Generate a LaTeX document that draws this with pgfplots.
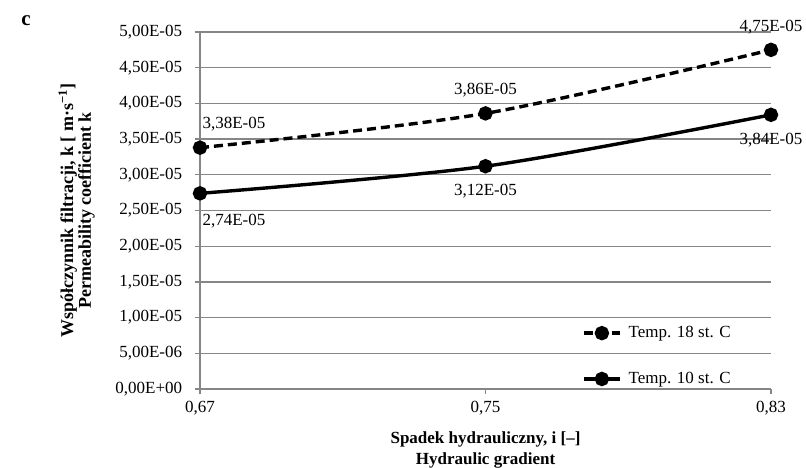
\documentclass[border=0pt]{standalone}
\usepackage{fontspec}
\setmainfont{Liberation Serif}
\usepackage{pgfplots}
\pgfplotsset{compat=1.18}
\definecolor{gridgray}{RGB}{134,134,134}
\begin{document}
\fontsize{17bp}{19bp}\selectfont
\begin{tikzpicture}
\path[use as bounding box] (-200bp,-79bp) rectangle (606bp,389bp);
\begin{axis}[
  at={(0,0)}, anchor=south west,
  width=571bp, height=357bp, scale only axis,
  clip=false,
  xmin=0.67, xmax=0.83, ymin=0, ymax=5e-5,
  xtick={0.67,0.75,0.83},
  xticklabels={{0,67},{0,75},{0,83}},
  ytick={0,5e-6,1e-5,1.5e-5,2e-5,2.5e-5,3e-5,3.5e-5,4e-5,4.5e-5,5e-5},
  yticklabels={{0,00E+00},{5,00E-06},{1,00E-05},{1,50E-05},{2,00E-05},{2,50E-05},{3,00E-05},{3,50E-05},{4,00E-05},{4,50E-05},{5,00E-05}},
  yticklabel style={xshift=-7bp},
  xticklabel style={yshift=-1bp},
  scaled y ticks=false,
  ymajorgrids,
  grid style={gridgray, line width=1.2bp},
  axis lines*=left,
  axis line style={gridgray, line width=1.4bp, -},
  tick align=outside,
  major tick length=5bp,
  tick style={gridgray, line width=1.2bp},
  ylabel={Współczynnik filtracji, k [ m·s\textsuperscript{−1}]\\Permeability coefficient k},
  ylabel style={at={(axis description cs:-0.216,0.5)}, anchor=center, align=center, font=\bfseries\fontsize{18bp}{14.5bp}\selectfont},
  xlabel={Spadek hydrauliczny, i [–]\\Hydraulic gradient},
  xlabel style={at={(axis description cs:0.5,0)}, anchor=north, yshift=-37bp, align=center, font=\bfseries\fontsize{17bp}{21bp}\selectfont},
  legend style={draw=none, fill=none, at={(axis description cs:0.669,0.182)}, anchor=north west, row sep=28bp, inner sep=0pt, cells={anchor=west}, nodes={inner xsep=7bp}},
  legend image code/.code={\draw[mark repeat=2,mark phase=2,#1] plot coordinates {(0bp,0bp) (18bp,0bp) (36bp,0bp)};},
]
\addplot[black, line width=3.4bp, dash pattern=on 9bp off 5bp, smooth, mark=*, mark size=5.5bp, mark options={solid, fill=black},
  nodes near coords, point meta=explicit symbolic,
  every node near coord/.append style={anchor=center, yshift=23bp, black},
  coordinate style/.condition={x<0.7}{xshift=34bp, yshift=1bp}]
  coordinates {(0.67,3.38e-5)[3,38E-05] (0.75,3.86e-5)[3,86E-05] (0.83,4.75e-5)[4,75E-05]};
\addlegendentry{Temp. 18 st. C}
\addplot[black, line width=3.4bp, smooth, mark=*, mark size=5.5bp, mark options={solid, fill=black},
  nodes near coords, point meta=explicit symbolic,
  every node near coord/.append style={anchor=center, yshift=-25bp, black},
  coordinate style/.condition={x<0.7}{xshift=34bp, yshift=-3bp}]
  coordinates {(0.67,2.74e-5)[2,74E-05] (0.75,3.12e-5)[3,12E-05] (0.83,3.84e-5)[3,84E-05]};
\addlegendentry{Temp. 10 st. C}
\end{axis}
\node[font=\bfseries\fontsize{21bp}{24bp}\selectfont] at (-174bp,368bp) {c};
\end{tikzpicture}
\end{document}
